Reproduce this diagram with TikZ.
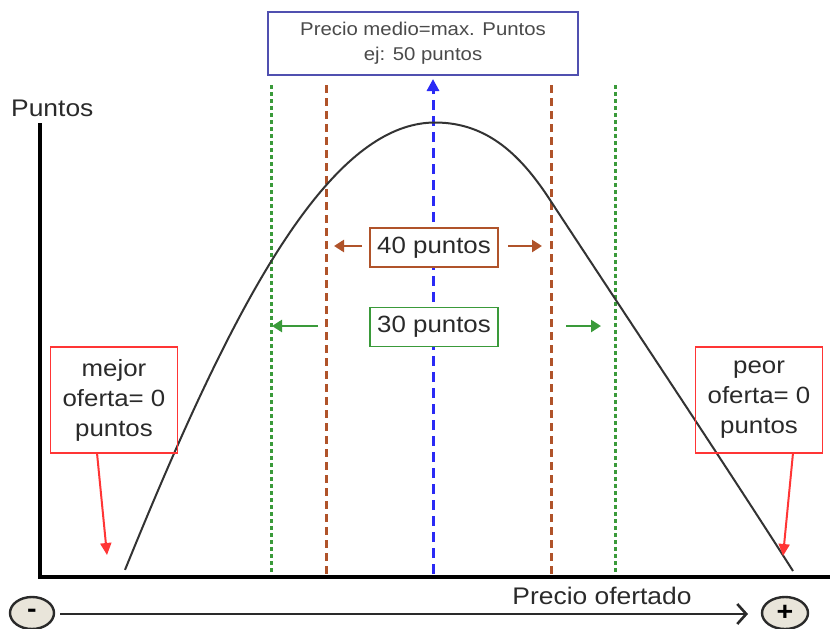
\documentclass[tikz,border=0pt]{standalone}
\usepackage{fontspec}
\setmainfont{Liberation Sans}[FakeStretch=1.1]
\usetikzlibrary{arrows.meta,shapes.geometric}
\definecolor{txt}{HTML}{2A2A2A}
\definecolor{cgreen}{HTML}{3A9A3A}
\definecolor{cbrown}{HTML}{B0532A}
\definecolor{cblue}{HTML}{2A2AF5}
\definecolor{cred}{HTML}{FF3535}
\definecolor{cframe}{HTML}{5050B0}
\definecolor{cbeige}{HTML}{E9E5DA}
\tikzset{
  lbl/.style={text=txt, font=\fontsize{24}{29}\selectfont, align=center, inner sep=0pt},
  pbox/.style={draw=#1, fill=white, line width=1.6pt, minimum width=128pt, minimum height=39pt, inner sep=0pt, text=txt, font=\fontsize{23.5}{29}\selectfont},
  redbox/.style={draw=cred, line width=1.6pt, minimum width=127pt, minimum height=106pt, inner sep=0pt, text=txt, align=center, font=\fontsize{23.5}{30}\selectfont},
  gdash/.style={draw=cgreen, line width=3pt, dash pattern=on 4pt off 3pt},
  bdash/.style={draw=cbrown, line width=3pt, dash pattern=on 8pt off 5pt},
  bludash/.style={draw=cblue, line width=3pt, dash pattern=on 10pt off 6pt},
  harrow/.style={line width=2.6pt, -{Triangle[length=10pt,width=12pt]}},
  redarrow/.style={draw=cred, line width=2pt, -{Triangle[length=12pt,width=11pt]}},
  signell/.style={ellipse, draw=txt, fill=cbeige, line width=2.4pt, minimum width=44pt, minimum height=32pt, inner sep=0pt, text=black, font=\fontsize{26}{26}\selectfont\bfseries}
}
\begin{document}
\begin{tikzpicture}[x=1pt,y=-1pt]
\useasboundingbox (0,0) rectangle (830,629);
% axes
\coordinate (ytop) at (40,125);
\coordinate (orig) at (40,577);
\coordinate (xend) at (830,577);
\draw[line width=4.5pt, line cap=rect] (ytop) -- (orig) -- (xend);
\node[lbl, anchor=west] (puntos) at (11,108) {Puntos};

% dashed verticals
\coordinate (g1t) at (271,85); \coordinate (g1b) at (271,574);
\coordinate (g2t) at (615,85); \coordinate (g2b) at (615,574);
\coordinate (b1t) at (326,85); \coordinate (b1b) at (326,574);
\coordinate (b2t) at (551,85); \coordinate (b2b) at (551,574);
\coordinate (blb) at (433,574); \coordinate (blt) at (433,79);
\draw[gdash] (g1t) -- (g1b);
\draw[gdash] (g2t) -- (g2b);
\draw[bdash] (b1t) -- (b1b);
\draw[bdash] (b2t) -- (b2b);
\draw[bludash, -{Triangle[length=12pt,width=12pt]}] (blb) -- (blt);

% curve
\coordinate (cp) at (435,122.5);
\coordinate (cr2) at (552,203);
\coordinate (cr) at (793,571);
\draw[line width=2pt, color=black!80, line join=round]
  plot[domain=125:435, samples=80] (\x, {122.5+600*(1-cos(deg((435-\x)/236)))})
  .. controls (488,122.5) and (522,156) .. (cr2)
  .. controls (640,337) and (730,472) .. (cr);

% top box
\node[draw=cframe, fill=white, line width=1.6pt, minimum width=310pt, minimum height=63pt, inner sep=0pt,
      text=txt!85, align=center, font=\fontsize{18.5}{26}\selectfont] (top) at (423,43.5)
      {\raisebox{-2pt}{Precio medio=max. Puntos}\\[-1pt]\raisebox{-2pt}{ej: 50 puntos}};

% 40 / 30 boxes
\node[pbox=cbrown] (p40) at (434,247.5) {40 puntos};
\node[pbox=cgreen] (p30) at (434,327) {30 puntos};
\coordinate (a40l) at (334,246); \coordinate (a40r) at (542,246);
\coordinate (a30l) at (272,326); \coordinate (a30r) at (601,326);
\coordinate (s40l) at (362,246); \coordinate (s40r) at (508,246);
\coordinate (s30l) at (318,326); \coordinate (s30r) at (566,326);
\draw[harrow, color=cbrown] (s40l) -- (a40l);
\draw[harrow, color=cbrown] (s40r) -- (a40r);
\draw[harrow, color=cgreen] (s30l) -- (a30l);
\draw[harrow, color=cgreen] (s30r) -- (a30r);

% red boxes
\node[redbox] (mejor) at (114,400) {mejor\\oferta= 0\\puntos};
\node[redbox] (peor) at (759,400) {peor\\oferta= 0\\puntos};
\coordinate (mt) at (107,555);
\coordinate (pt) at (783,556);
\coordinate (ms) at (97,453);
\coordinate (ps) at (793,453);
\draw[redarrow] (ms) -- (mt);
\draw[redarrow] (ps) -- (pt);

% bottom
\node[signell] (minus) at (32,613) {-};
\node[signell, minimum width=46pt] (plus) at (785,613) {+};
\coordinate (ax0) at (60,614);
\coordinate (ax1) at (748,614);
\draw[line width=2.6pt, color=txt, -{Straight Barb[length=9pt,width=20pt,line width=2.6pt]}] (ax0) -- (ax1);
\node[lbl, anchor=center] (po) at (602,596) {Precio ofertado};
\end{tikzpicture}
\end{document}
